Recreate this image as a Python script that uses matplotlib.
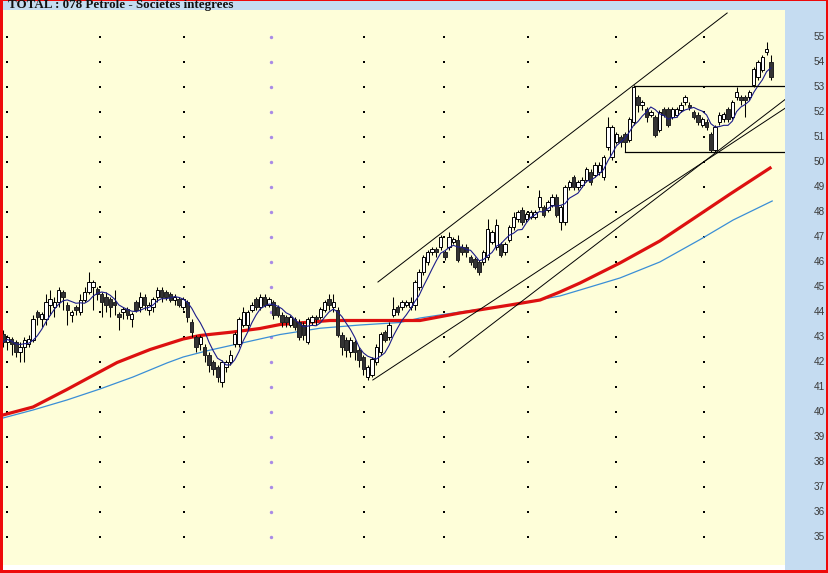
"""Daily candlestick chart for TOTAL with moving averages and trend lines."""

from __future__ import annotations

import matplotlib

matplotlib.use("Agg")

import matplotlib.pyplot as plt
import matplotlib.transforms as mtransforms
import pandas as pd
from matplotlib.patches import Rectangle

TITLE = "TOTAL : 078 Petrole - Societes integrees"

# OHLC per trading day
opens = [
    43.1, 42.8, 42.9, 42.8, 42.4, 42.6, 42.7, 42.9, 44.0, 43.7,
    43.7, 44.3, 44.2, 44.4, 44.8, 44.3, 43.9, 44.2, 44.0, 44.5,
    44.8, 45.0, 44.9, 44.7, 44.6, 44.5, 44.4, 43.9, 44.0, 44.1,
    43.7, 44.4, 44.2, 44.6, 44.1, 44.2, 44.6, 44.9, 44.8, 44.7,
    44.5, 44.5, 44.2, 44.4, 43.6, 43.0, 42.7, 42.6, 42.3, 42.0,
    41.8, 41.2, 41.8, 42.0, 42.7, 42.7, 43.5, 43.5, 44.1, 44.5,
    44.2, 44.6, 44.3, 44.4, 44.2, 43.9, 43.8, 43.5, 43.7, 43.6,
    43.5, 42.8, 43.6, 43.8, 43.8, 44.1, 44.5, 44.2, 44.1, 43.1,
    42.9, 42.4, 42.8, 42.5, 42.2, 41.4, 41.5, 42.0, 42.4, 43.2,
    43.0, 43.9, 44.2, 44.2, 44.3, 44.2, 44.3, 45.0, 45.6, 46.0,
    46.4, 46.5, 46.6, 46.4, 46.6, 46.8, 46.9, 46.6, 46.6, 46.2,
    46.1, 46.0, 46.0, 46.2, 46.8, 46.6, 46.7, 46.4, 46.9, 47.4,
    47.7, 48.1, 47.7, 47.8, 47.8, 48.2, 48.2, 48.1, 48.3, 48.6,
    47.6, 47.6, 49.0, 49.4, 49.0, 49.1, 49.3, 49.6, 49.5, 49.6,
    49.4, 50.6, 50.2, 50.8, 51.0, 51.1, 50.9, 51.6, 52.6, 52.3,
    52.1, 51.9, 51.8, 51.3, 52.1, 52.1, 51.8, 51.9, 52.1, 52.4,
    52.3, 52.0, 51.9, 51.5, 51.6, 51.1, 50.5, 51.6, 51.7, 52.1,
    51.8, 52.6, 52.6, 52.6, 52.6, 53.1, 53.4, 53.7, 54.4, 54.0,
]
highs = [
    43.3, 43.1, 43.0, 42.9, 42.8, 43.0, 43.1, 43.9, 44.1, 44.0,
    44.7, 44.9, 44.6, 45.0, 44.9, 44.4, 44.1, 44.3, 44.7, 45.0,
    45.6, 45.3, 45.0, 44.8, 44.8, 44.6, 44.9, 44.0, 44.2, 44.2,
    44.0, 44.5, 44.8, 44.7, 44.4, 44.6, 45.0, 45.0, 44.9, 44.8,
    44.7, 44.6, 44.6, 44.5, 43.7, 43.1, 43.1, 42.7, 42.4, 42.1,
    41.9, 42.1, 42.1, 42.5, 43.2, 43.8, 44.2, 44.1, 44.4, 44.6,
    44.7, 44.7, 44.6, 44.5, 44.3, 44.0, 43.9, 43.9, 43.8, 43.7,
    43.6, 43.8, 43.9, 43.9, 44.2, 44.5, 44.7, 44.7, 44.2, 43.2,
    43.0, 43.0, 42.9, 42.6, 42.3, 41.9, 42.2, 42.7, 43.2, 43.3,
    43.6, 44.6, 44.3, 44.5, 44.5, 44.6, 45.3, 45.7, 46.3, 46.5,
    46.6, 46.6, 47.1, 46.5, 47.2, 47.0, 47.1, 46.7, 46.7, 46.3,
    46.2, 46.1, 46.5, 47.7, 47.3, 47.7, 46.8, 46.8, 47.5, 48.0,
    48.1, 48.2, 48.0, 48.1, 48.1, 48.9, 48.3, 48.5, 48.7, 48.7,
    48.3, 49.1, 49.3, 49.5, 49.3, 49.4, 49.8, 49.7, 50.0, 50.0,
    50.3, 51.8, 51.5, 51.2, 51.1, 51.2, 51.8, 53.1, 52.7, 52.5,
    52.2, 52.1, 51.9, 52.1, 52.2, 52.2, 52.2, 52.2, 52.4, 52.7,
    52.4, 52.1, 52.0, 51.8, 51.7, 51.2, 51.5, 52.0, 52.0, 52.2,
    52.5, 53.0, 52.7, 52.7, 52.9, 53.8, 54.1, 54.3, 54.8, 54.3,
]
lows = [
    42.6, 42.5, 42.3, 42.2, 42.0, 42.0, 42.6, 42.8, 43.5, 43.4,
    43.5, 43.9, 43.8, 44.2, 44.1, 43.5, 43.6, 43.9, 43.9, 44.4,
    44.7, 44.1, 44.5, 43.8, 44.0, 43.8, 43.9, 43.3, 43.7, 43.7,
    43.4, 44.0, 44.0, 44.1, 43.9, 44.0, 44.4, 44.4, 44.5, 44.4,
    44.3, 44.2, 44.1, 43.6, 43.0, 42.4, 42.5, 42.0, 41.6, 41.5,
    41.2, 41.0, 41.6, 41.9, 42.6, 42.6, 43.4, 43.3, 44.0, 44.1,
    44.1, 44.2, 44.2, 43.7, 43.8, 43.4, 43.4, 43.4, 43.3, 42.9,
    42.9, 42.7, 43.5, 43.5, 43.7, 44.0, 44.1, 44.0, 43.0, 42.3,
    42.2, 42.2, 42.1, 41.8, 41.5, 41.3, 41.4, 41.9, 42.3, 42.8,
    42.9, 43.8, 43.9, 44.1, 44.2, 44.1, 44.1, 44.9, 45.5, 45.9,
    46.3, 46.2, 46.5, 46.1, 46.5, 46.7, 46.0, 46.3, 46.2, 45.9,
    45.7, 45.5, 45.9, 46.1, 46.7, 46.5, 46.2, 46.3, 46.8, 47.3,
    47.6, 47.5, 47.6, 47.7, 47.7, 48.1, 47.8, 48.0, 48.2, 47.8,
    47.3, 47.5, 48.9, 48.9, 48.9, 49.0, 49.2, 49.1, 49.4, 49.5,
    49.3, 50.5, 50.1, 50.7, 50.6, 50.4, 50.8, 51.5, 52.0, 52.1,
    51.6, 51.8, 51.0, 51.2, 51.8, 51.4, 51.7, 51.8, 52.0, 52.3,
    52.1, 51.7, 51.5, 51.4, 51.3, 50.4, 50.4, 51.5, 51.6, 51.6,
    51.7, 52.5, 52.3, 51.8, 52.5, 53.0, 53.3, 53.6, 54.3, 53.3,
]
closes = [
    42.8, 43.0, 42.7, 42.4, 42.6, 42.9, 42.9, 43.7, 43.8, 43.9,
    44.4, 44.5, 44.4, 44.9, 44.6, 44.1, 44.0, 44.1, 44.5, 44.8,
    45.2, 45.2, 44.7, 44.4, 44.3, 44.2, 44.3, 43.8, 44.1, 43.9,
    43.9, 44.1, 44.6, 44.3, 44.3, 44.5, 44.9, 44.6, 44.6, 44.5,
    44.6, 44.3, 44.5, 43.8, 43.2, 42.6, 43.0, 42.3, 41.9, 41.7,
    41.4, 42.0, 42.0, 42.3, 43.1, 43.7, 44.0, 44.0, 44.3, 44.2,
    44.6, 44.3, 44.5, 43.9, 43.9, 43.6, 43.6, 43.8, 43.4, 43.0,
    43.1, 43.7, 43.8, 43.7, 44.1, 44.4, 44.3, 44.4, 43.1, 42.6,
    42.5, 42.9, 42.4, 42.1, 41.7, 41.8, 42.1, 42.6, 43.1, 42.9,
    43.5, 44.1, 44.0, 44.4, 44.4, 44.4, 45.2, 45.6, 46.2, 46.4,
    46.5, 46.4, 47.0, 46.2, 47.0, 46.9, 46.1, 46.4, 46.4, 46.0,
    45.8, 45.6, 46.4, 47.3, 47.2, 47.5, 46.3, 46.7, 47.4, 47.8,
    48.0, 47.6, 47.9, 48.0, 48.0, 48.6, 47.9, 48.4, 48.6, 47.9,
    48.2, 49.0, 49.2, 49.0, 49.2, 49.3, 49.7, 49.2, 49.9, 49.9,
    50.2, 51.4, 51.4, 51.1, 50.8, 50.8, 51.7, 53.0, 52.3, 52.4,
    51.8, 52.0, 51.1, 52.0, 51.9, 51.5, 52.1, 52.1, 52.3, 52.6,
    52.2, 51.8, 51.6, 51.7, 51.4, 50.5, 51.4, 51.9, 51.9, 51.7,
    52.4, 52.8, 52.5, 52.5, 52.8, 53.7, 54.0, 54.2, 54.5, 53.4,
]

# long moving averages (started before the visible window), sampled at bar positions
ma_red_pos = [0, 7.0, 14.9, 20.3, 26.6, 34.3, 42.0, 45.9, 53.6, 59.9, 64.6, 76.2,
              83.2, 97.2, 106.5, 118.2, 125.2, 129.8, 134.5, 143.8, 153.1, 160.8, 169.5, 178.8]
ma_red_val = [39.88, 40.2, 40.9, 41.4, 41.98, 42.5, 42.92, 43.06, 43.2, 43.34, 43.5, 43.66,
              43.66, 43.66, 43.96, 44.28, 44.48, 44.8, 45.16, 45.96, 46.84, 47.72, 48.72, 49.76]
ma_blue_pos = [0, 7.0, 14.9, 22.6, 30.3, 38.2, 42.0, 47.6, 53.6, 59.9, 64.6, 73.9,
               83.2, 92.5, 97.2, 106.5, 118.2, 129.8, 134.5, 143.8, 153.1, 162.5, 170.2, 179.3]
ma_blue_val = [39.76, 40.08, 40.48, 40.92, 41.4, 41.96, 42.2, 42.45, 42.68, 42.92, 43.1, 43.35,
               43.48, 43.58, 43.76, 44.0, 44.28, 44.64, 44.88, 45.36, 46.0, 46.9, 47.68, 48.44]

# trend lines: (x0, y0, x1, y1) in bar position / price
trend_lines = [
    (87.4, 45.2, 168.8, 55.96),
    (86.2, 41.28, 182.3, 52.15),
    (104.0, 42.2, 182.3, 52.5),
]
# horizontal range lines: (x_start, price)
range_lines = [(147.0, 53.05), (145.0, 50.4)]

# month separators (bar positions), the purple one marks the new year
month_pos = [1.0, 22.6, 42.2, 62.5, 84.1, 102.8, 122.4, 142.9, 163.4]
year_pos = 62.5
price_levels = list(range(35, 56))

W, H = 829, 573
BAR_PX = 4.29
BG_YELLOW = "#fefed9"
PANEL_BLUE = "#c5dcf1"
BORDER_RED = "#ee0a0a"


def fig_rect(x0: float, y0: float, x1: float, y1: float) -> list[float]:
    """Pixel box (from top-left) to figure fraction [left, bottom, width, height]."""
    return [x0 / W, 1 - y1 / H, (x1 - x0) / W, (y1 - y0) / H]


def main() -> None:
    fig = plt.figure(figsize=(W / 100, H / 100), dpi=100)
    fig.patch.set_facecolor(BORDER_RED)

    for box, color in [((3, 1, 826, 570), PANEL_BLUE), ((3, 565, 785, 570), "white")]:
        l, b, w, h = fig_rect(*box)
        fig.patches.append(Rectangle((l, b), w, h, transform=fig.transFigure,
                                     facecolor=color, edgecolor="none", zorder=-5))

    ax = fig.add_axes(fig_rect(3, 10, 785, 565))
    ax.set_zorder(1)
    ax.set_facecolor(BG_YELLOW)
    for spine in ax.spines.values():
        spine.set_visible(False)
    ax.set_xticks([])
    ax.set_yticks([])
    ax.set_xlim(0, 782 / BAR_PX)
    ax.set_ylim(55 - 528 / 25, 55 + 27 / 25)

    # grid dots
    for pos in month_pos:
        if pos == year_pos:
            ax.scatter([pos] * len(price_levels), price_levels, s=6, marker="o",
                       color="#a98be6", linewidths=0, zorder=1)
        else:
            ax.scatter([pos] * len(price_levels), price_levels, s=2.2, marker="s",
                       color="black", linewidths=0, zorder=1)

    df = pd.DataFrame({"open": opens, "high": highs, "low": lows, "close": closes})
    df["pos"] = range(len(df))
    df["ma_short"] = df["close"].rolling(6, min_periods=1).mean()

    # long moving averages
    ax.plot(ma_blue_pos, ma_blue_val, color="#3a8ed6", linewidth=0.9, zorder=2,
            solid_joinstyle="round")
    ax.plot(ma_red_pos, ma_red_val, color="#dd1010", linewidth=2.3, zorder=2,
            solid_joinstyle="round")

    # candles
    ax.vlines(df["pos"], df["low"], df["high"], color="black", linewidth=0.75, zorder=3)
    up = df["close"] >= df["open"]
    bottoms = df[["open", "close"]].min(axis=1)
    heights = (df["close"] - df["open"]).abs().clip(lower=0.05)
    ax.bar(df["pos"][up], heights[up], bottom=bottoms[up], width=0.8,
           facecolor="white", edgecolor="black", linewidth=0.7, zorder=4)
    ax.bar(df["pos"][~up], heights[~up], bottom=bottoms[~up], width=0.8,
           facecolor="#333333", edgecolor="#222222", linewidth=0.7, zorder=4)

    # short moving average
    ax.plot(df["pos"], df["ma_short"], color="#1c1c8a", linewidth=0.8, zorder=5)

    # trend and range lines
    for x0, y0, x1, y1 in trend_lines:
        ax.plot([x0, x1], [y0, y1], color="black", linewidth=0.7, zorder=5)
    x_right = 782 / BAR_PX
    for x0, level in range_lines:
        ax.plot([x0, x_right], [level, level], color="black", linewidth=0.9, zorder=5)

    # price labels in the right panel
    trans = mtransforms.blended_transform_factory(ax.transAxes, ax.transData)
    for level in price_levels:
        ax.text((825 - 3) / 782, level, str(level), transform=trans, ha="right", va="center",
                fontsize=7.2, family="Liberation Sans", color="#3a3a3a", clip_on=False)

    fig.text(8 / W, 1 - 7.8 / H, TITLE, ha="left", va="baseline", fontsize=9.4,
             family="Liberation Serif", fontweight="bold", color="#111111")

    fig.savefig("out.png", dpi=100, facecolor=fig.get_facecolor())


if __name__ == "__main__":
    main()
